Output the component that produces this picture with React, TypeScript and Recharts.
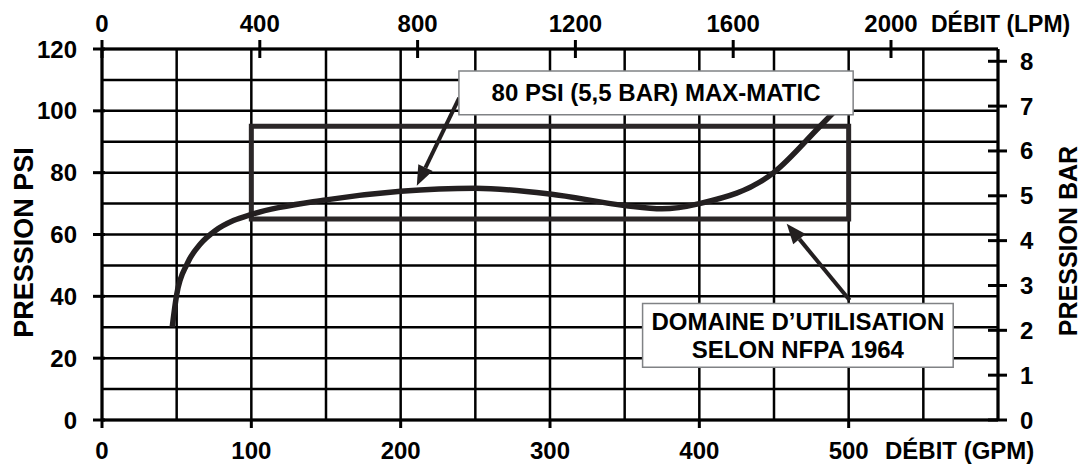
import { LineChart, Line, XAxis, YAxis, CartesianGrid, ReferenceArea, ReferenceLine } from 'recharts';

// pump curve
const flowGpm = [47, 50, 57, 66, 76, 88, 100, 150, 200, 250, 300, 350, 375, 400, 450, 480, 495];
const pressurePsi = [30, 40.5, 50.5, 57, 61.3, 64.5, 66.5, 71.2, 74, 75, 73.1, 69.4, 68.3, 70, 80.1, 94.6, 102];

const gpmTicks = [0, 50, 100, 150, 200, 250, 300, 350, 400, 450, 500, 550, 600];
const gpmLabels = [0, 100, 200, 300, 400, 500];
const lpmTicks = [0, 400, 800, 1200, 1600, 2000];
const psiTicks = [0, 10, 20, 30, 40, 50, 60, 70, 80, 90, 100, 110, 120];
const psiLabels = [0, 20, 40, 60, 80, 100, 120];
const barTicks = [0, 1, 2, 3, 4, 5, 6, 7, 8];

const GPM_MAX = 600;
const PSI_MAX = 120;
const LPM_PER_GPM = 3.78541;
const PSI_PER_BAR = 14.5038;

// NFPA 1964 operating range
const rangeGpm = [100, 500];
const rangePsi = [65, 95];

// annotations (data units)
const note1Gpm = [239, 503];
const note1Psi = [98.7, 112.9];
const note1Lines = ['80 PSI (5,5 BAR) MAX-MATIC'];
const arrow1 = [{ x: 239.2, y: 104.2 }, { x: 210.8, y: 75.8 }];
const note2Gpm = [362, 570];
const note2Psi = [17.1, 37.7];
const note2Lines = ['DOMAINE D\u2019UTILISATION', 'SELON NFPA 1964'];
const arrow2 = [{ x: 500.7, y: 38.7 }, { x: 458.5, y: 63.5 }];

const data = flowGpm.map((gpm, i) => ({ gpm, lpm: gpm * LPM_PER_GPM, psi: pressurePsi[i] }));

const INK = '#231f20';
const FONT = '"Liberation Sans", Arial, sans-serif';
const txt = { fontFamily: FONT, fontWeight: 700, fontSize: 24, fill: '#000' } as const;

const BottomTick = (p: any) => {
  const v = p.payload.value;
  if (!gpmLabels.includes(v)) return <g />;
  return (
    <g>
      <line x1={p.x} x2={p.x} y1={p.y} y2={p.y + 8} stroke="#000" strokeWidth={3} />
      <text x={p.x} y={p.y + 39} textAnchor="middle" {...txt}>{v}</text>
    </g>
  );
};

const TopTick = (p: any) => (
  <g>
    <line x1={p.x} x2={p.x} y1={p.y - 9} y2={p.y + 9} stroke="#000" strokeWidth={3} />
    <text x={p.x} y={p.y - 17} textAnchor="middle" {...txt}>{p.payload.value}</text>
  </g>
);

const LeftTick = (p: any) => {
  const v = p.payload.value;
  if (!psiLabels.includes(v)) return <g />;
  return (
    <g>
      <line x1={p.x - 9} x2={p.x + 3} y1={p.y} y2={p.y} stroke="#000" strokeWidth={3} />
      <text x={p.x - 25} y={p.y + 8.5} textAnchor="end" {...txt}>{v}</text>
    </g>
  );
};

const RightTick = (p: any) => (
  <g>
    <line x1={p.x - 10} x2={p.x + 9} y1={p.y} y2={p.y} stroke="#000" strokeWidth={3} />
    <text x={p.x + 22} y={p.y + 8.5} textAnchor="start" {...txt}>{p.payload.value}</text>
  </g>
);

const Arrow = (p: any) => {
  const { x1, y1, x2, y2 } = p;
  const dx = x2 - x1;
  const dy = y2 - y1;
  const len = Math.hypot(dx, dy) || 1;
  const ux = dx / len;
  const uy = dy / len;
  const head = 20;
  const half = 8;
  const bx = x2 - ux * head;
  const by = y2 - uy * head;
  const pts = `${x2},${y2} ${bx - uy * half},${by + ux * half} ${bx + uy * half},${by - ux * half}`;
  return (
    <g>
      <line x1={x1} y1={y1} x2={bx} y2={by} stroke={INK} strokeWidth={4} />
      <polygon points={pts} fill={INK} />
    </g>
  );
};

const boxText = (lines: string[]) => (props: any) => {
  const { x, y, width, height } = props.viewBox;
  const cx = x + width / 2;
  const lh = 28;
  const startY = y + height / 2 - ((lines.length - 1) * lh) / 2 + 8.5;
  return (
    <text textAnchor="middle" {...txt}>
      {lines.map((l, i) => (
        <tspan key={i} x={cx} y={startY + i * lh}>{l}</tspan>
      ))}
    </text>
  );
};

export default function App() {
  return (
    <div style={{ position: 'absolute', left: 0, top: 0, background: '#fff' }}>
      <LineChart width={1084} height={467} data={data} margin={{ top: 0, right: 0, bottom: 0, left: 0 }}>
        <CartesianGrid xAxisId="gpm" yAxisId="psi" stroke="#000" strokeWidth={2.5} />
        <XAxis
          xAxisId="gpm"
          dataKey="gpm"
          type="number"
          orientation="bottom"
          domain={[0, GPM_MAX]}
          allowDataOverflow
          ticks={gpmTicks}
          interval={0}
          height={47}
          tickSize={0}
          tickMargin={0}
          tickLine={false}
          axisLine={{ stroke: '#000', strokeWidth: 3 }}
          tick={BottomTick}
          label={() => (
            <text x={885} y={459} textAnchor="start" {...txt}>DÉBIT (GPM)</text>
          )}
        />
        <XAxis
          xAxisId="lpm"
          dataKey="lpm"
          type="number"
          orientation="top"
          domain={[0, GPM_MAX * LPM_PER_GPM]}
          allowDataOverflow
          ticks={lpmTicks}
          interval={0}
          height={49}
          tickSize={0}
          tickMargin={0}
          tickLine={false}
          axisLine={{ stroke: '#000', strokeWidth: 3 }}
          tick={TopTick}
          label={() => (
            <text x={931} y={32} textAnchor="start" {...txt} fontSize={23}>DÉBIT (LPM)</text>
          )}
        />
        <YAxis
          yAxisId="psi"
          type="number"
          orientation="left"
          domain={[0, PSI_MAX]}
          allowDataOverflow
          ticks={psiTicks}
          interval={0}
          width={102}
          tickSize={0}
          tickMargin={0}
          tickLine={false}
          axisLine={{ stroke: '#000', strokeWidth: 3 }}
          tick={LeftTick}
          label={() => (
            <text x={33} y={242.5} transform="rotate(-90 33 242.5)" textAnchor="middle" {...txt} fontSize={27}>
              PRESSION PSI
            </text>
          )}
        />
        <YAxis
          yAxisId="bar"
          type="number"
          orientation="right"
          domain={[0, PSI_MAX / PSI_PER_BAR]}
          allowDataOverflow
          ticks={barTicks}
          interval={0}
          width={86}
          tickSize={0}
          tickMargin={0}
          tickLine={false}
          axisLine={{ stroke: '#000', strokeWidth: 3 }}
          tick={RightTick}
          label={() => (
            <text x={1076.5} y={241} transform="rotate(-90 1076.5 241)" textAnchor="middle" {...txt} fontSize={25}>
              PRESSION BAR
            </text>
          )}
        />
        <ReferenceArea
          xAxisId="gpm"
          yAxisId="psi"
          x1={rangeGpm[0]}
          x2={rangeGpm[1]}
          y1={rangePsi[0]}
          y2={rangePsi[1]}
          fill="none"
          fillOpacity={0}
          stroke="#2b2728"
          strokeWidth={5}
        />
        <Line
          xAxisId="gpm"
          yAxisId="psi"
          dataKey="psi"
          type="monotone"
          stroke={INK}
          strokeWidth={5.5}
          dot={false}
          activeDot={false}
          isAnimationActive={false}
        />
        <ReferenceLine xAxisId="gpm" yAxisId="psi" segment={arrow1} shape={Arrow} zIndex={1500} />
        <ReferenceLine xAxisId="gpm" yAxisId="psi" segment={arrow2} shape={Arrow} zIndex={1500} />
        <ReferenceArea
          xAxisId="gpm"
          yAxisId="psi"
          x1={note1Gpm[0]}
          x2={note1Gpm[1]}
          y1={note1Psi[0]}
          y2={note1Psi[1]}
          fill="#fff"
          fillOpacity={1}
          stroke="#808285"
          strokeWidth={1.5}
          zIndex={1600}
          label={boxText(note1Lines)}
        />
        <ReferenceArea
          xAxisId="gpm"
          yAxisId="psi"
          x1={note2Gpm[0]}
          x2={note2Gpm[1]}
          y1={note2Psi[0]}
          y2={note2Psi[1]}
          fill="#fff"
          fillOpacity={1}
          stroke="#808285"
          strokeWidth={1.5}
          zIndex={1600}
          label={boxText(note2Lines)}
        />
      </LineChart>
    </div>
  );
}
